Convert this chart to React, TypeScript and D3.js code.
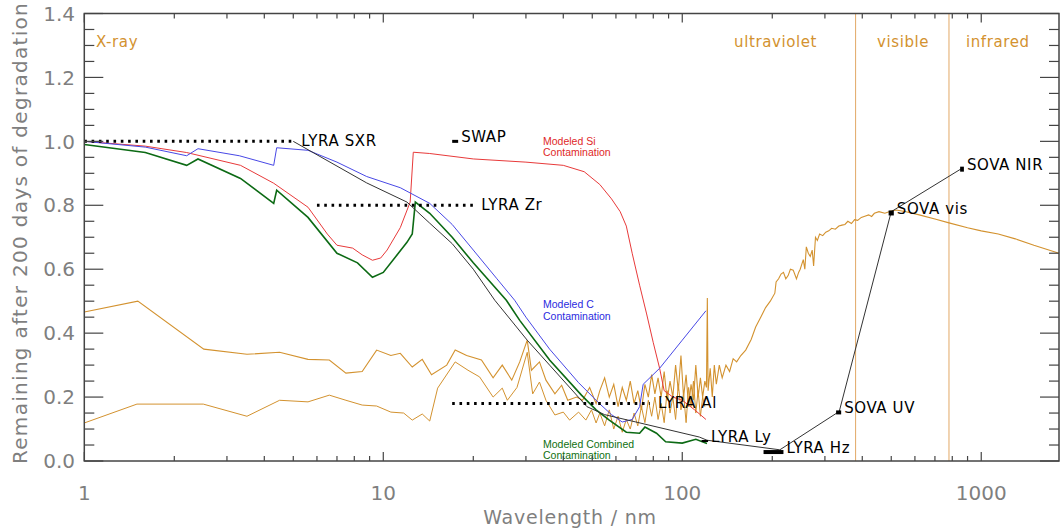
import * as d3 from 'd3';

// wavelength (nm) / fraction remaining after 200 days
const modeledC: [number, number][] = [
  [1, 1.0], [1.6, 0.982], [2.2, 0.955], [2.4, 0.977], [3.3, 0.955], [4.3, 0.925], [4.4, 0.98],
  [5.6, 0.972], [7, 0.935], [8.8, 0.89], [11.4, 0.855], [14.3, 0.806], [17, 0.74], [20, 0.66],
  [24, 0.57], [27.5, 0.503], [30, 0.45], [36, 0.35], [45, 0.245], [52.8, 0.18], [58, 0.145],
  [63, 0.122], [68, 0.13], [72, 0.17], [74, 0.24], [84, 0.29], [100, 0.378], [120, 0.47],
];

const modeledSi: [number, number][] = [
  [1, 1.0], [1.6, 0.985], [2.2, 0.965], [3.33, 0.925], [4.3, 0.869], [5.6, 0.794], [6.5, 0.71],
  [7, 0.675], [7.9, 0.666], [8.5, 0.645], [9.2, 0.628], [9.8, 0.635], [10.3, 0.66], [11.4, 0.73],
  [12.3, 0.81], [12.6, 0.966], [14.3, 0.962], [20, 0.945], [30, 0.935], [40, 0.925], [47, 0.905],
  [53, 0.865], [58, 0.82], [62, 0.78], [65, 0.735], [68, 0.65], [72, 0.55], [76, 0.46], [80, 0.37],
  [84, 0.29], [87, 0.22], [93, 0.2], [100, 0.19], [110, 0.16], [120, 0.13],
];

const modeledCombined: [number, number][] = [
  [1, 0.99], [1.6, 0.965], [2.2, 0.925], [2.4, 0.945], [3.33, 0.884], [4.3, 0.806], [4.4, 0.847],
  [5.6, 0.762], [7, 0.65], [8.2, 0.62], [9.2, 0.575], [10, 0.59], [12, 0.684], [12.5, 0.71],
  [12.8, 0.81], [14.3, 0.775], [17, 0.7], [20, 0.62], [25.8, 0.503], [28.6, 0.44], [36, 0.316],
  [46, 0.206], [51.5, 0.16], [57, 0.128], [65, 0.09], [72, 0.087], [75, 0.106], [82, 0.087],
  [88, 0.06], [100, 0.056], [111, 0.068], [121, 0.055],
];

const instrumentPath: [number, number][] = [
  [5, 1.0], [8.8, 0.87], [12, 0.81], [14.3, 0.744], [17, 0.68], [20, 0.6], [23.6, 0.503],
  [30.3, 0.378], [36, 0.3], [48, 0.17], [55, 0.145], [70, 0.122], [114, 0.075], [121, 0.065],
  [212, 0.035], [335, 0.155], [500, 0.78], [860, 0.915],
];

const solarUpper: [number, number][] = [
  [1, 0.466], [1.51, 0.5], [2.51, 0.35], [3.5, 0.334], [4.5, 0.34], [5.6, 0.318], [6.6, 0.316],
  [7.5, 0.275], [8.5, 0.28], [9.5, 0.347], [10.6, 0.33], [11.4, 0.337], [12.5, 0.294], [13.5, 0.318],
  [14.5, 0.27], [16.3, 0.3], [17.4, 0.347], [19, 0.33], [21.3, 0.316], [23.3, 0.26], [25, 0.3],
  [26.9, 0.253], [28.6, 0.31], [30.3, 0.378], [31.3, 0.284], [33.3, 0.31], [35, 0.253], [37.5, 0.21],
  [39.5, 0.237], [41.4, 0.19], [44.3, 0.2], [46.4, 0.19], [49, 0.23], [51.5, 0.18], [53, 0.22],
  [55, 0.26], [57, 0.2], [59, 0.24], [61, 0.17], [63, 0.23], [65, 0.19], [67, 0.25], [69, 0.18],
  [71, 0.22], [73, 0.16], [75, 0.24], [77, 0.2], [79, 0.27], [81, 0.21], [83, 0.26], [85, 0.2],
  [87, 0.28], [89, 0.19], [91, 0.25], [93, 0.2], [95, 0.3], [97, 0.22], [99, 0.33], [101, 0.2],
  [103, 0.27], [105, 0.17], [107, 0.24], [109, 0.19], [111, 0.3], [113, 0.2], [115, 0.26],
  [117, 0.2], [119, 0.25], [120.5, 0.23], [121.3, 0.51], [122, 0.22], [124, 0.29], [126, 0.2],
  [128, 0.3], [130, 0.24], [133, 0.3], [136, 0.26], [140, 0.3], [144, 0.28], [148, 0.32],
  [152, 0.31], [157, 0.33], [163, 0.347], [170, 0.38], [176, 0.419], [183, 0.45], [190, 0.48],
  [197, 0.5], [204, 0.525], [206, 0.56], [210, 0.57], [214, 0.585], [218, 0.59], [222, 0.57],
  [226, 0.58], [230, 0.6], [235, 0.597], [241, 0.57], [245, 0.59], [248, 0.6], [251, 0.615],
  [254, 0.63], [257, 0.6], [260, 0.67], [264, 0.65], [268, 0.64], [272, 0.66], [275, 0.61],
  [279, 0.7], [283, 0.69], [288, 0.71], [295, 0.705], [302, 0.716], [309, 0.72], [316, 0.728],
  [325, 0.725], [334, 0.735], [342, 0.738], [350, 0.74], [358, 0.75], [368, 0.743], [377, 0.755],
  [386, 0.753], [397, 0.762], [408, 0.766], [420, 0.77], [430, 0.765], [439, 0.775], [455, 0.78],
  [476, 0.775], [500, 0.782], [520, 0.785], [560, 0.78], [620, 0.77], [700, 0.757], [780, 0.745],
  [900, 0.73], [1000, 0.72], [1140, 0.71], [1300, 0.695], [1500, 0.675], [1820, 0.65],
];

const solarLower: [number, number][] = [
  [1, 0.119], [1.5, 0.178], [2.5, 0.178], [3.5, 0.14], [4.5, 0.19], [5.6, 0.185], [6.6, 0.206],
  [7.5, 0.19], [8.5, 0.175], [9.5, 0.172], [10.6, 0.153], [11.7, 0.15], [12.5, 0.128], [13.5, 0.147],
  [14.3, 0.125], [15.2, 0.228], [17.4, 0.31], [19.2, 0.284], [21, 0.263], [23.3, 0.2], [25, 0.228],
  [26, 0.19], [28, 0.23], [30.3, 0.34], [31.6, 0.21], [33.3, 0.247], [35, 0.19], [37.5, 0.144],
  [40, 0.153], [42, 0.128], [45, 0.153], [47.6, 0.128], [49.7, 0.16], [51.5, 0.119], [53, 0.15],
  [55, 0.11], [57, 0.16], [59, 0.1], [61, 0.14], [63, 0.09], [65, 0.13], [67, 0.1], [69, 0.15],
  [71, 0.11], [73, 0.17], [75, 0.12], [77, 0.19], [79, 0.14], [81, 0.2], [83, 0.13], [85, 0.18],
  [87, 0.12], [89, 0.22], [91, 0.15], [93, 0.2], [95, 0.13], [97, 0.24], [99, 0.16], [101, 0.21],
  [103, 0.12], [105, 0.23], [107, 0.17], [109, 0.25], [111, 0.15], [113, 0.22], [115, 0.14],
  [117, 0.2], [119, 0.17],
];

// dotted bandpasses: [from nm, to nm, level, label]
const bandpasses: [number, number, number, string][] = [
  [1, 5, 1.0, 'LYRA SXR'],
  [6, 20, 0.8, 'LYRA Zr'],
  [17, 78, 0.18, 'LYRA Al'],
];

// solid markers: [from nm, to nm, level, label, bar thickness]
const markers: [number, number, number, string, number][] = [
  [17, 17.8, 1.0, 'SWAP', 3],
  [116, 122, 0.0625, 'LYRA Ly', 2],
  [187, 218, 0.028, 'LYRA Hz', 4],
  [327, 340, 0.152, 'SOVA UV', 4],
  [490, 510, 0.776, 'SOVA vis', 5],
  [850, 875, 0.913, 'SOVA NIR', 5],
];

const regionLabels: [number, string][] = [[1.094, 'X-ray'], [149, 'ultraviolet'], [448, 'visible'], [889, 'infrared']];
const regionBounds = [380, 780];

const yTickLabels = ['0.0', '0.2', '0.4', '0.6', '0.8', '1.0', '1.2', '1.4'];
const xTickLabels = ['1', '10', '100', '1000'];

const modelNotes: [number, number, string, string, string][] = [
  [0.99, 0.955, 'Modeled Si', 'Contamination', '#e02828'],
  [0.478, 0.442, 'Modeled C', 'Contamination', '#2a2ae0'],
  [0.04, 0.006, 'Modeled Combined', 'Contamination', '#107010'],
];

const W = 1060;
const H = 531;
const L = 84.3, R = 1059, T = 13.5, B = 461;
const ORANGE = '#d3922f';
const AXIS_TXT = '#7f7f7f';
const HERSHEY = '"DejaVu Sans", sans-serif';

export default function App() {
  const x = d3.scaleLog().domain([1, 1820]).range([L, R]);
  const y = d3.scaleLinear().domain([0, 1.4]).range([B, T]);
  const line = d3.line<[number, number]>().x(d => x(d[0])).y(d => y(d[1]));

  const yTicks = d3.range(0, 29).map(i => ({ v: i * 0.05, major: i % 4 === 0 }));
  const xTicks: { v: number; major: boolean }[] = [];
  [1, 10, 100, 1000].forEach(dec => {
    for (let k = 1; k <= 9; k++) if (k * dec <= 1820) xTicks.push({ v: k * dec, major: k === 1 });
  });

  return (
    <svg width={W} height={H} style={{ position: 'absolute', left: 0, top: 0, background: '#fff' }}>
      {/* region separators */}
      {regionBounds.map(b => (
        <line key={b} x1={x(b)} x2={x(b)} y1={T} y2={B} stroke="#e2a866" strokeWidth={1} />
      ))}
      {regionLabels.map(([w, t]) => (
        <text key={t} x={x(w)} y={47} fill={ORANGE} fontFamily={HERSHEY} fontSize={15} letterSpacing={0.6}>{t}</text>
      ))}

      {/* solar spectrum */}
      <path d={line(solarLower) ?? ''} fill="none" stroke={ORANGE} strokeWidth={1} />
      <path d={line(solarUpper) ?? ''} fill="none" stroke={ORANGE} strokeWidth={1.1} />

      {/* models */}
      <path d={line(modeledSi) ?? ''} fill="none" stroke="#e83a3a" strokeWidth={1} />
      <path d={line(modeledC) ?? ''} fill="none" stroke="#4848e6" strokeWidth={1} />
      <path d={line(modeledCombined) ?? ''} fill="none" stroke="#0c6a14" strokeWidth={1.6} />
      <path d={line(instrumentPath) ?? ''} fill="none" stroke="#333" strokeWidth={1} />

      {modelNotes.map(([v1, v2, a, b, c]) => (
        <g key={a} fill={c} fontFamily='"Liberation Sans", Arial, sans-serif' fontSize={10.5}>
          <text x={543} y={y(v1)}>{a}</text>
          <text x={543} y={y(v2)}>{b}</text>
        </g>
      ))}

      {/* bandpasses */}
      {bandpasses.map(([a, b, v, t]) => (
        <g key={t}>
          <line x1={x(a)} x2={x(b)} y1={y(v)} y2={y(v)} stroke="#000" strokeWidth={3} strokeDasharray="2.6 4.7" />
          <text x={x(b) + 8} y={y(v) + 5} fontFamily={HERSHEY} fontSize={15} letterSpacing={0.6}>{t}</text>
        </g>
      ))}
      {markers.map(([a, b, v, t, th]) => (
        <g key={t}>
          <line x1={x(a)} x2={x(b)} y1={y(v)} y2={y(v)} stroke="#000" strokeWidth={th} />
          <text x={x(b) + 3} y={y(v) + 1} fontFamily={HERSHEY} fontSize={15} letterSpacing={0.6}>{t}</text>
        </g>
      ))}

      {/* frame & ticks */}
      <rect x={L} y={T} width={R - L} height={B - T} fill="none" stroke="#444" strokeWidth={1.5} />
      {yTicks.map(t => (
        <g key={'y' + t.v} stroke="#444" strokeWidth={1.2}>
          <line x1={L} x2={L + (t.major ? 19 : 10)} y1={y(t.v)} y2={y(t.v)} />
          <line x1={R} x2={R - (t.major ? 19 : 10)} y1={y(t.v)} y2={y(t.v)} />
        </g>
      ))}
      {xTicks.map(t => (
        <g key={'x' + t.v} stroke="#444" strokeWidth={1.2}>
          <line x1={x(t.v)} x2={x(t.v)} y1={B} y2={B - (t.major ? 9 : 5)} />
          <line x1={x(t.v)} x2={x(t.v)} y1={T} y2={T + (t.major ? 9 : 5)} />
        </g>
      ))}
      {yTickLabels.map((s, i) => (
        <text key={s} x={75} y={y(i * 0.2)} dy="0.36em" textAnchor="end" fill={AXIS_TXT} fontFamily={HERSHEY} fontSize={20}>{s}</text>
      ))}
      {xTickLabels.map(s => (
        <text key={s} x={x(+s)} y={500} textAnchor="middle" fill={AXIS_TXT} fontFamily={HERSHEY} fontSize={20}>{s}</text>
      ))}
      <text x={570} y={524} textAnchor="middle" fill={AXIS_TXT} fontFamily={HERSHEY} fontSize={19} letterSpacing={0.8}>Wavelength / nm</text>
      <text transform="translate(27,233) rotate(-90)" textAnchor="middle" fill={AXIS_TXT} fontFamily={HERSHEY} fontSize={20} letterSpacing={1.3}>
        Remaining after 200 days of degradation
      </text>
    </svg>
  );
}
